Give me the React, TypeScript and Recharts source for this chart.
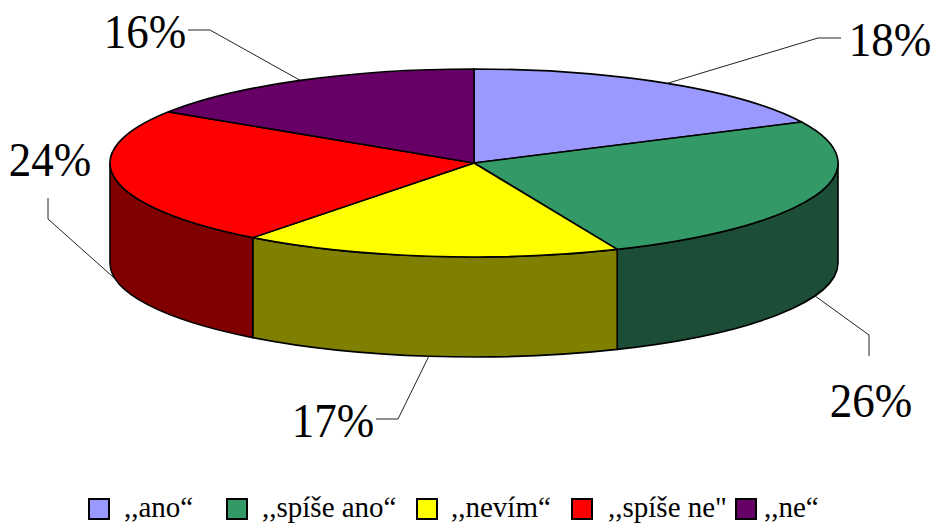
import React from 'react'
import { PieChart, Pie, Cell, Legend } from 'recharts'

const CATEGORIES = [',,ano“', ',,spíše ano“', ',,nevím“', ',,spíše ne"', ',,ne“']
const VALUES = [18, 26, 17, 24, 16]
const TOP_COLORS = ['#9999FF', '#339966', '#FFFF00', '#FF0000', '#660066']
const SIDE_COLORS = ['#4D4D80', '#1C4D36', '#808000', '#800000', '#330033']

// Elbow, tail and text placement of each value label
const LABEL_LAYOUT = [
  { elbow: [818, 38], tail: [841, 38], text: [890, 56] },
  { elbow: [869, 335], tail: [869, 356], text: [871, 417] },
  { elbow: [398, 419], tail: [376, 419], text: [333, 437] },
  { elbow: [48, 219], tail: [48, 198], text: [50, 176] },
  { elbow: [210, 30], tail: [188, 30], text: [145, 48] },
]
const LEGEND_LAYOUT = [
  { swatch: 88, text: 124 },
  { swatch: 226, text: 262 },
  { swatch: 416, text: 451 },
  { swatch: 571, text: 608 },
  { swatch: 735, text: 764 },
]

const WIDTH = 932
const HEIGHT = 524
const CX = 474
const CY = 163
const RX = 364
const RY = 94
const DEPTH = 100

const rows = CATEGORIES.map((name, i) => ({ name, value: VALUES[i], side: SIDE_COLORS[i] }))

// Pie angles are squashed onto an ellipse to fake the tilted disc
function project(angle: number, drop = 0) {
  const rad = (angle * Math.PI) / 180
  return { x: CX + RX * Math.cos(rad), y: CY - RY * Math.sin(rad) + drop }
}

function DiscSector(props: any) {
  const { startAngle, endAngle, fill, side } = props
  const a = project(startAngle)
  const b = project(endAngle)
  const large = startAngle - endAngle > 180 ? 1 : 0
  const top = `M${CX},${CY} L${a.x},${a.y} A${RX},${RY} 0 ${large} 1 ${b.x},${b.y} Z`

  // only the front half of the rim (0 to -180) shows a wall
  const from = Math.min(startAngle, 0)
  const to = Math.max(endAngle, -180)
  let wall = null
  if (from > to) {
    const p = project(from)
    const q = project(to)
    const pLow = project(from, DEPTH)
    const qLow = project(to, DEPTH)
    wall = `M${p.x},${p.y} A${RX},${RY} 0 0 1 ${q.x},${q.y} L${qLow.x},${qLow.y} A${RX},${RY} 0 0 0 ${pLow.x},${pLow.y} Z`
  }

  return (
    <g>
      {wall && <path d={wall} fill={side} stroke="#000" strokeWidth={1.6} strokeLinejoin="round" />}
      <path d={top} fill={fill} stroke="#000" strokeWidth={1.6} strokeLinejoin="round" />
    </g>
  )
}

function ValueLabel(props: any) {
  const { midAngle, index, value } = props
  const layout = LABEL_LAYOUT[index]
  // labels on the front of the disc hang off the lower rim
  const front = Math.sin((midAngle * Math.PI) / 180) < 0
  const anchor = project(midAngle, front ? DEPTH : 0)
  const points = [[anchor.x, anchor.y], layout.elbow, layout.tail].map(p => p.join(',')).join(' ')
  return (
    <g>
      <polyline points={points} fill="none" stroke="#222" strokeWidth={1} />
      <text
        transform={`translate(${layout.text[0]},${layout.text[1]}) scale(1,1.06)`}
        textAnchor="middle"
        fontFamily="'Liberation Serif', serif"
        fontSize={45}
        fill="#000"
      >
        {`${value}%`}
      </text>
    </g>
  )
}

function LegendRow() {
  return (
    <div style={{ position: 'relative', width: WIDTH, height: HEIGHT, fontFamily: "'Liberation Serif', serif" }}>
      {CATEGORIES.map((name, i) => (
        <React.Fragment key={name}>
          <span
            style={{
              position: 'absolute',
              left: LEGEND_LAYOUT[i].swatch,
              top: 498,
              width: 18,
              height: 18,
              background: TOP_COLORS[i],
              border: '2px solid #000',
            }}
          />
          <span
            style={{
              position: 'absolute',
              left: LEGEND_LAYOUT[i].text,
              top: 494,
              fontSize: 29,
              lineHeight: '26px',
              whiteSpace: 'nowrap',
              color: '#000',
            }}
          >
            {name}
          </span>
        </React.Fragment>
      ))}
    </div>
  )
}

export default function App() {
  return (
    <div style={{ position: 'absolute', left: 0, top: 0, width: WIDTH, height: HEIGHT, background: '#fff' }}>
      <PieChart width={WIDTH} height={HEIGHT} margin={{ top: 0, right: 0, bottom: 0, left: 0 }}>
        <Pie
          data={rows}
          dataKey="value"
          nameKey="name"
          cx={CX}
          cy={CY}
          outerRadius={RX}
          startAngle={90}
          endAngle={-270}
          paddingAngle={0}
          shape={DiscSector}
          label={ValueLabel}
          labelLine={false}
          isAnimationActive={false}
        >
          {rows.map((row, i) => (
            <Cell key={row.name} fill={TOP_COLORS[i]} />
          ))}
        </Pie>
        <Legend
          content={LegendRow}
          wrapperStyle={{ position: 'absolute', left: 0, top: 0, bottom: 'auto', width: WIDTH, height: HEIGHT, pointerEvents: 'none' }}
        />
      </PieChart>
    </div>
  )
}
